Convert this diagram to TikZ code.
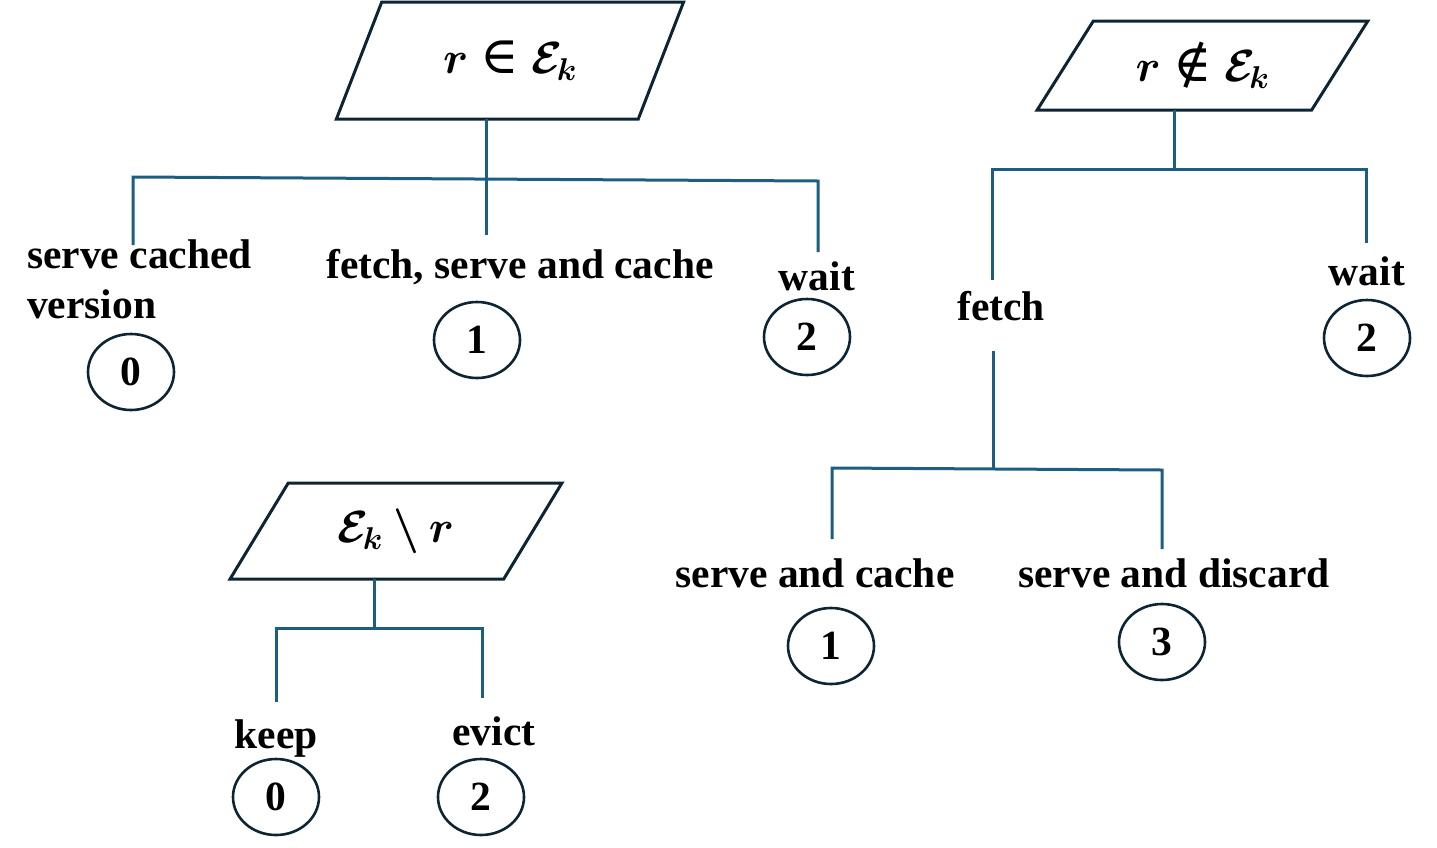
\RequirePackage{fix-cm}
\documentclass[tikz,border=0pt]{standalone}
\usepackage{amsmath,bm}
\usepackage{fontspec}
\setmainfont{Liberation Serif}
\newfontfamily\symf{DejaVu Serif}
\usetikzlibrary{shapes.geometric}
\definecolor{outl}{HTML}{0C2433}
\definecolor{conn}{HTML}{1B5E82}
\newcommand{\relsym}[1]{\mathrel{\text{\symf\fontsize{52}{56}\selectfont #1}}}
\tikzset{
  para/.style={trapezium, draw=outl, line width=3pt, trapezium stretches=true,
    inner sep=0pt, outer sep=0pt, font=\fontsize{45}{52}\selectfont},
  lab/.style={font=\fontsize{41.5}{50}\selectfont\bfseries, inner sep=0pt, anchor=base},
  num/.style={ellipse, draw=outl, line width=2.6pt, inner sep=0pt,
    minimum width=86pt, minimum height=76pt, font=\fontsize{41.5}{50}\selectfont\bfseries},
  cn/.style={draw=conn, line width=3pt}
}
\begin{document}
\begin{tikzpicture}[x=1pt,y=-1pt]
\useasboundingbox (0,0) rectangle (1437,847);
% ---- tree 1
\node[para, minimum width=348pt, minimum height=117pt, trapezium left angle=59, trapezium right angle=121]
  (q1) at (510,60.5) {$\bm{r}\relsym{∈}\bm{\mathcal{E}_{\!k}}$};
\node[lab, anchor=base west] (l1a) at (27,268) {serve cached};
\node[lab, anchor=base west] (l1b) at (27,318) {version};
\node[lab] (l1c) at (520,278) {fetch, serve and cache};
\node[lab] (l1d) at (817,290) {wait};
\node[num] (n1a) at (131,372) {0};
\node[num] (n1c) at (477,340) {1};
\node[num] (n1d) at (807,337) {2};
\coordinate (e1m) at (486,235);
\coordinate (h1l) at (133,177);
\coordinate (h1r) at (818,181);
\coordinate (e1l) at (133,245);
\coordinate (e1r) at (818,252);
\draw[cn] (e1m |- q1.south) -- (e1m);
\draw[cn] (e1l) -- (h1l) -- (h1r) -- (e1r);
% ---- tree 2
\node[para, minimum width=331pt, minimum height=89pt, trapezium left angle=53.4, trapezium right angle=126.6]
  (q2) at (1202.5,65.5) {$\bm{r}\relsym{∉}\bm{\mathcal{E}_{\!k}}$};
\node[lab] (l2f) at (1001,320) {fetch};
\node[lab] (l2w) at (1367,285) {wait};
\node[num] (n2w) at (1367,338) {2};
\node[lab] (l2a) at (815,587) {serve and cache};
\node[lab] (l2b) at (1174,587) {serve and discard};
\node[num] (n2a) at (831,646) {1};
\node[num] (n2b) at (1162,642) {3};
\coordinate (j2) at (1174,169);
\coordinate (h2l) at (992,169);
\coordinate (h2r) at (1366,169);
\coordinate (e2l) at (992,280);
\coordinate (e2r) at (1366,243);
\draw[cn] (j2 |- q2.south) -- (j2);
\draw[cn] (e2l) -- (h2l) -- (h2r) -- (e2r);
\coordinate (f2s) at (993,351);
\coordinate (f2j) at (993,468);
\coordinate (h3l) at (832,468);
\coordinate (h3r) at (1162,470);
\coordinate (e3l) at (832,539);
\coordinate (e3r) at (1162,549);
\draw[cn] (f2s) -- (f2j);
\draw[cn] (e3l) -- (h3l) -- (h3r) -- (e3r);
% ---- tree 3
\node[para, minimum width=332pt, minimum height=96pt, trapezium left angle=55.1, trapezium right angle=124.9]
  (q3) at (396,531) {$\bm{\mathcal{E}_{\!k}\setminus r}$};
\node[lab] (l3a) at (276,748) {keep};
\node[lab] (l3b) at (494,745) {evict};
\node[num] (n3a) at (276,797) {0};
\node[num] (n3b) at (481,797) {2};
\coordinate (j3) at (374,628);
\coordinate (h4l) at (276,628);
\coordinate (h4r) at (482,628);
\coordinate (e4l) at (276,702);
\coordinate (e4r) at (482,698);
\draw[cn] (j3 |- q3.south) -- (j3);
\draw[cn] (e4l) -- (h4l) -- (h4r) -- (e4r);
\end{tikzpicture}
\end{document}
